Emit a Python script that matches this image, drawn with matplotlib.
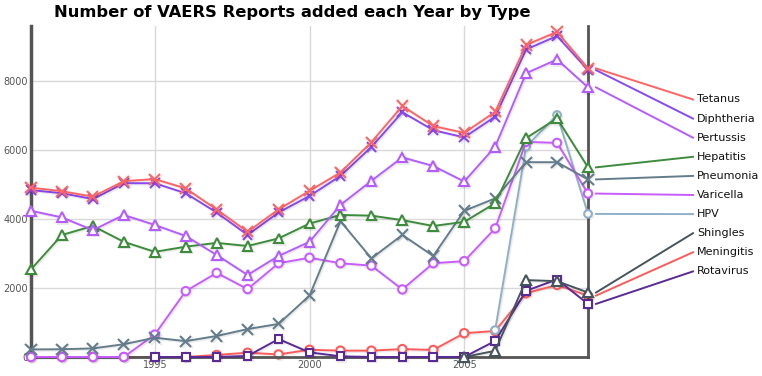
import numpy as np
import matplotlib
matplotlib.use("Agg")
import matplotlib.pyplot as plt
import matplotlib.patheffects as pe
from matplotlib.lines import Line2D

nan = np.nan

years = list(range(1991, 2010))

tetanus = [4910, 4810, 4650, 5100, 5160, 4890, 4280, 3630, 4280, 4820, 5350, 6230, 7280, 6700, 6500, 7110, 9050, 9430, 8370]
diphtheria = [4840, 4750, 4580, 5040, 5040, 4750, 4190, 3540, 4190, 4670, 5250, 6090, 7100, 6580, 6370, 6970, 8920, 9310, 8320]
pertussis = [4240, 4050, 3680, 4120, 3830, 3510, 2960, 2380, 2930, 3340, 4410, 5110, 5790, 5540, 5090, 6100, 8230, 8630, 7820]
hepatitis = [2540, 3540, 3800, 3340, 3050, 3200, 3310, 3220, 3440, 3870, 4120, 4100, 3970, 3800, 3920, 4460, 6350, 6920, 5500]
pneumonia = [220, 225, 250, 370, 560, 460, 610, 810, 960, 1780, 3940, 2860, 3540, 2930, 4240, 4600, 5650, 5650, 5150]
varicella = [0, 0, 0, 0, 650, 1910, 2440, 1970, 2720, 2880, 2720, 2650, 1960, 2720, 2780, 3730, 6240, 6210, 4740]
hpv = [nan] * 15 + [780, 6100, 7020, 4150]
shingles = [nan] * 14 + [0, 180, 2230, 2200, 1870]
meningitis = [0] * 6 + [60, 125, 75, 210, 185, 185, 230, 205, 690, 755, 1850, 2090, 1780]
rotavirus = [nan] * 4 + [0, 0, 0, 30, 520, 135, 20, 0, 0, 0, 0, 465, 1920, 2250, 1540]

names = ["Tetanus", "Diphtheria", "Pertussis", "Hepatitis", "Pneumonia",
         "Varicella", "HPV", "Shingles", "Meningitis", "Rotavirus"]
series = [tetanus, diphtheria, pertussis, hepatitis, pneumonia,
          varicella, hpv, shingles, meningitis, rotavirus]

# style per series: color, marker, marker size
colors = ["#ff6464", "#8a48f0", "#b65cff", "#3c8c3c", "#637d8c",
          "#c95cff", "#8fb0c8", "#46555c", "#ff5a5a", "#5a2a96"]
markers = ["x", "x", "^", "^", "x", "o", "o", "^", "o", "s"]
msizes = [8, 7, 7, 7, 8, 6, 5.5, 7, 6, 5.5]
zorders = [10, 9, 8, 7, 6, 5, 4, 3.5, 2, 3]

W, H = 762, 376
fig = plt.figure(figsize=(W / 100, H / 100), dpi=100)
ax = fig.add_axes([31 / W, 19 / H, (588 - 31) / W, (357 - 26) / H])

shadow = [pe.SimpleLineShadow(offset=(1, -1), alpha=0.08, shadow_color="black"), pe.Normal()]

for vals, c, m, ms, z in zip(series, colors, markers, msizes, zorders):
    ax.plot(years, vals, color=c, lw=1.4, marker=m, ms=ms, mew=1.5,
            mfc="white" if m != "x" else c, mec=c, zorder=z,
            path_effects=shadow, clip_on=False)

ax.set_xlim(1991, 2009)
ax.set_ylim(0, 9600)
ax.set_xticks([1995, 2000, 2005])
ax.set_yticks([0, 2000, 4000, 6000, 8000])
ax.tick_params(length=0, labelsize=7, colors="#555555", pad=2)
ax.grid(True, color="#d9d9d9", lw=1)
ax.set_axisbelow(True)
for s in ["left", "right", "bottom"]:
    ax.spines[s].set_color("#555555")
ax.spines["left"].set_linewidth(2.5)
ax.spines["right"].set_linewidth(2)
ax.spines["bottom"].set_linewidth(2)
ax.spines["top"].set_visible(False)

fig.text(292 / W, 1 - 12 / H, "Number of VAERS Reports added each Year by Type",
         ha="center", va="center", fontsize=11.8, fontweight="bold")

# labels on the right with connector lines
label_top = 99.5
label_step = 19.1
for i, (name, vals, c) in enumerate(zip(names, series, colors)):
    px, py = ax.transData.transform((years[-1], vals[-1]))
    ly = H - (label_top + i * label_step)
    fig.add_artist(Line2D([(px + 8) / W, 693 / W], [py / H, ly / H],
                          transform=fig.transFigure, color=c, lw=1.4))
    fig.text(697 / W, ly / H, name, ha="left", va="center", fontsize=8, color="#111111")

fig.savefig("out.png", dpi=100)
